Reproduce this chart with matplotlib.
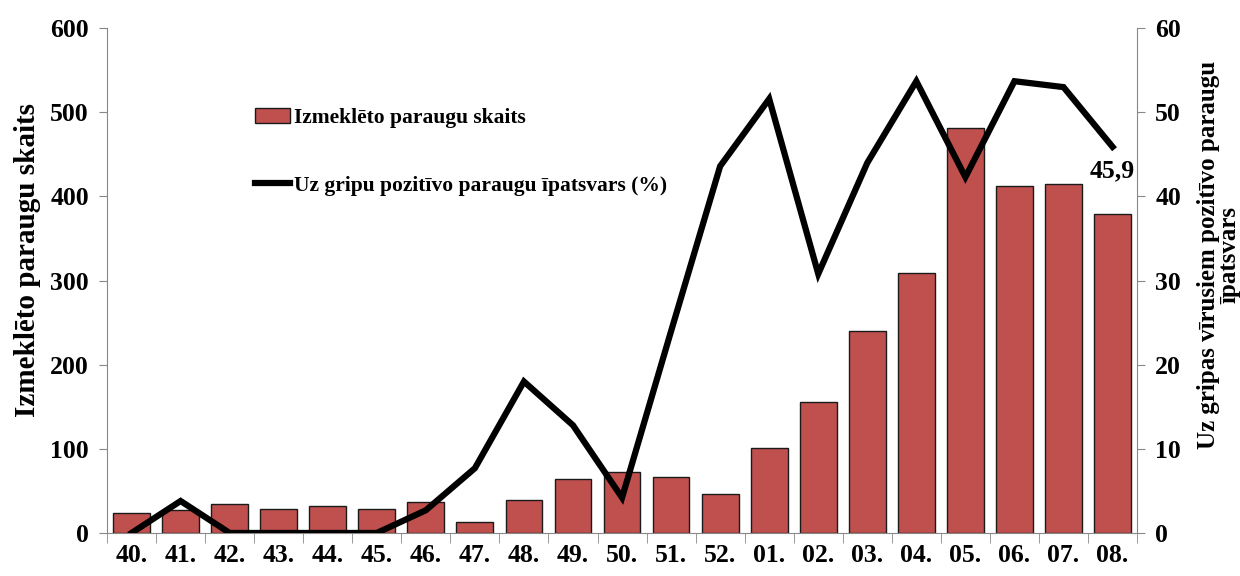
import numpy as np
import matplotlib.pyplot as plt

weeks = ["40.", "41.", "42.", "43.", "44.", "45.", "46.", "47.", "48.", "49.", "50.",
         "51.", "52.", "01.", "02.", "03.", "04.", "05.", "06.", "07.", "08."]
samples = [24, 27, 34, 28, 32, 28, 37, 13, 39, 64, 72, 67, 46, 101, 156, 240, 309, 481, 412, 415, 379]
positive_pct = [0, 3.8, 0, 0, 0, 0, 2.7, 7.7, 18.0, 12.8, 4.2, 24.0, 43.6, 51.6, 30.8, 44.0, 53.7,
                42.3, 53.7, 53.0, 45.9]

plt.rcParams['font.family'] = ['Liberation Serif', 'DejaVu Serif']
plt.rcParams['font.weight'] = 'bold'

fig = plt.figure(figsize=(12.4, 5.76), dpi=100)
ax = fig.add_axes([0.0863, 0.0747, 0.8307, 0.8763])
x = np.arange(len(weeks))

bars = ax.bar(x, samples, width=0.75, color='#C0504D', edgecolor='#1a1a1a', linewidth=1,
              label='Izmeklēto paraugu skaits', zorder=2)
ax.set_xlim(-0.5, len(weeks) - 0.5)
ax.set_ylim(0, 600)
ax.set_yticks(range(0, 601, 100))
ax.set_xticks(x)
ax.set_xticklabels(weeks)
ax.set_xticks(np.arange(-0.5, len(weeks), 1), minor=True)
ax.tick_params(axis='x', which='major', length=0, pad=8, labelsize=18.5)
ax.tick_params(axis='x', which='minor', length=7, color='#888888')
ax.tick_params(axis='y', length=6, color='#888888', labelsize=18.5, pad=7)
for s in ['left', 'bottom']:
    ax.spines[s].set_color('#888888')
ax.spines['top'].set_visible(False)
ax.spines['right'].set_visible(False)
ax.set_ylabel('Izmeklēto paraugu skaits', fontsize=21, fontweight='bold')
ax.yaxis.set_label_coords(-0.064, 0.54)

ax2 = ax.twinx()
line, = ax2.plot(x, positive_pct, color='black', linewidth=4.5, solid_joinstyle='miter',
                 label='Uz gripu pozitīvo paraugu īpatsvars (%)', zorder=3)
ax2.set_ylim(0, 60)
ax2.set_yticks(range(0, 61, 10))
ax2.tick_params(axis='y', length=6, color='#888888', labelsize=18.5, pad=7)
ax2.spines['right'].set_color('#888888')
ax2.spines['top'].set_visible(False)
ax2.spines['left'].set_visible(False)
ax2.spines['bottom'].set_visible(False)
ax2.set_ylabel('Uz gripas vīrusiem pozitīvo paraugu\nīpatsvars', fontsize=18, fontweight='bold',
               linespacing=0.9)
ax2.yaxis.set_label_coords(1.058, 0.55)
ax2.annotate('45,9', (x[-1], positive_pct[-1]), xytext=(0, -22), textcoords='offset points',
             ha='center', fontsize=18.5, fontweight='bold')

leg = ax.legend([bars, line], [bars.get_label(), line.get_label()], loc='upper left',
                bbox_to_anchor=(0.125, 0.88), frameon=False, fontsize=15.5, handlelength=1.6,
                handletextpad=0.2, labelspacing=2.2)
ax.set_zorder(ax2.get_zorder() - 1)
ax2.set_zorder(1)
ax.patch.set_visible(True)
ax2.patch.set_visible(False)
# legend on top axis so the line doesn't cover it
leg.remove()
ax2.add_artist(leg)

fig.savefig('out.png', dpi=100)
